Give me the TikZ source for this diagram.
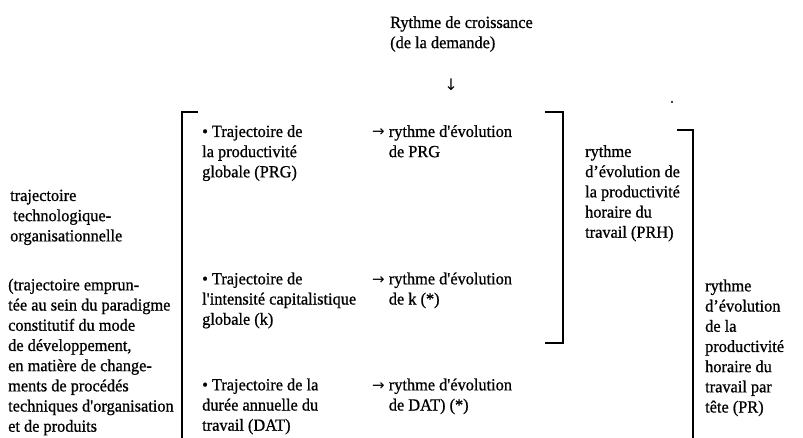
\documentclass[tikz,border=0pt]{standalone}
\usepackage{fontspec}
\setmainfont{Liberation Serif}[FakeStretch=0.96,FakeBold=0.8]
\newfontfamily\flfont{DejaVu Sans}
\newcommand{\sq}{\textquotesingle}
\newcommand{\fl}{{\flfont\fontsize{15}{20.2}\selectfont →}}

\begin{document}
\begin{tikzpicture}[x=1pt,y=-1pt,
  txt/.style={anchor=north west,inner sep=0pt,align=left,
    font=\fontsize{17}{20.2}\selectfont},
  brk/.style={line width=1.7pt}]

\useasboundingbox (0,0) rectangle (803,438);

% demande
\node[txt] (dem) at (390,13.6) {\strut Rythme de croissance\\(de la demande)};
\node[inner sep=0pt,font=\flfont\fontsize{16}{20.2}\selectfont] (bas) at (451,85) {↓};

% trajectoires
\node[txt] (prg)  at (202,122.6) {\strut • Trajectoire de\\la productivité\\globale (PRG)};
\node[txt] (rprg) at (372,122.6) {\strut \fl{} rythme d\sq évolution\\\phantom{\fl{} }de PRG};
\node[txt] (cap)  at (202,270) {\strut • Trajectoire de\\l\sq intensité capitalistique\\globale (k)};
\node[txt] (rcap) at (372,270) {\strut \fl{} rythme d\sq évolution\\\phantom{\fl{} }de k (*)};
\node[txt] (dat)  at (202,376) {\strut • Trajectoire de la\\durée annuelle du\\travail (DAT)};
\node[txt] (rdat) at (372,376) {\strut \fl{} rythme d\sq évolution\\\phantom{\fl{} }de DAT) (*)};

% productivites
\node[txt] (prh) at (585,142.6) {\strut rythme\\d’évolution de\\la productivité\\horaire du\\travail (PRH)};
\node[txt] (pr)  at (705,277) {\strut rythme\\d’évolution\\de la\\productivité\\horaire du\\travail par\\tête (PR)};

% trajectoire technologique
\node[txt] (tto) at (10,186.6) {\strut trajectoire\\\hspace{3pt}technologique-\\organisationnelle};
\node[txt] (par) at (8,276) {\strut (trajectoire emprun-\\tée au sein du paradigme\\constitutif du mode\\de développement,\\en matière de change-\\ments de procédés\\techniques d\sq organisation\\et de produits};

% crochets
\coordinate (g1) at (198,112);
\coordinate (g2) at (182,112);
\coordinate (g3) at (182,438);
\coordinate (m1) at (545,112);
\coordinate (m2) at (563,112);
\coordinate (m3) at (563,343);
\coordinate (m4) at (545,343);
\coordinate (d1) at (677,130);
\coordinate (d2) at (693,130);
\coordinate (d3) at (693,438);

\draw[brk] (g1) -- (g2) -- (g3);
\draw[brk] (m1) -- (m2) -- (m3) -- (m4);
\draw[brk] (d1) -- (d2) -- (d3);

\fill (672,102) circle (1.1);

\end{tikzpicture}
\end{document}
